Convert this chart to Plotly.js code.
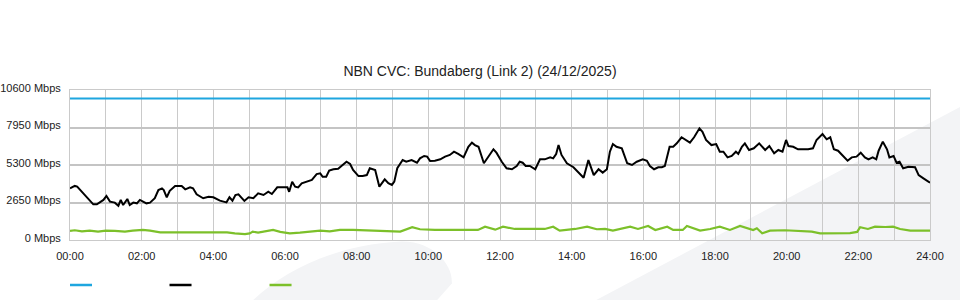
<!DOCTYPE html>
<html>
<head>
<meta charset="utf-8">
<script src="https://cdn.plot.ly/plotly-3.0.1.min.js"></script>
<style>html,body{margin:0;padding:0;background:#fff;}#chart{width:960px;height:300px;}</style>
</head>
<body>
<div id="chart"></div>
<script>
// Time of day in minutes since 00:00
const capacityTime = [0, 1440];
const capacityMbps = [10000, 10000];

const downTime = [0,8,12,22,33,39,45,50,56,61,67,75,81,85,89,96,100,106,112,117,128,134,142,148,154,157,162,167,176,187,193,201,206,212,223,232,240,251,262,267,272,277,282,292,299,307,315,324,332,338,347,357,364,367,372,377,382,388,396,405,413,419,423,429,434,441,449,455,463,469,474,483,490,497,502,511,518,527,533,539,543,548,557,563,572,581,586,593,598,603,611,620,628,636,643,650,659,667,673,678,684,693,700,709,714,723,731,740,748,753,758,763,770,779,787,795,804,809,814,818,823,832,843,851,860,868,877,885,892,899,904,909,915,924,933,941,949,959,966,971,978,985,991,996,1004,1010,1016,1024,1030,1038,1045,1054,1059,1065,1074,1082,1088,1094,1101,1108,1115,1119,1125,1130,1137,1145,1154,1164,1171,1179,1186,1193,1199,1203,1211,1219,1228,1236,1244,1250,1260,1267,1273,1279,1286,1295,1302,1309,1317,1324,1331,1337,1344,1350,1354,1361,1368,1372,1379,1384,1389,1395,1404,1415,1421,1429,1440];
const downMbps = [3650,3820,3770,3300,2780,2520,2520,2640,2830,3110,2710,2640,2420,2830,2470,2900,2470,2640,2590,2830,2590,2640,2950,3530,3650,3530,3020,3480,3820,3820,3580,3720,3650,3230,2950,3060,3020,2780,2660,3020,2780,3180,3230,2760,3020,2950,3300,3180,3410,3250,3720,3720,3720,3410,4120,3770,3720,4010,4120,4240,4660,4710,4470,4470,4900,5000,5040,5230,5530,5370,4950,4520,4520,4590,5070,4950,3770,4290,4010,3890,4120,5070,5650,5530,5650,5460,5770,5940,5890,5580,5600,5700,5890,6010,6240,6080,5840,6590,6880,6710,6590,5420,5840,6410,6170,5530,5070,5000,5230,5530,5460,5230,5230,5000,5700,5700,5840,5770,6080,6710,6010,5420,5140,4760,4400,5650,4590,5000,4760,5000,6240,6780,6590,6480,5420,5300,5530,5700,5600,5230,5000,5140,5140,5230,6590,6590,6830,7260,7070,6880,7260,7890,7650,7070,6710,6780,6240,6240,5840,5940,6240,6080,6590,6830,6360,6480,6830,6360,6640,6130,6360,6240,7070,6640,6590,6410,6410,6410,6480,7070,7490,7120,7260,6410,6310,5940,5600,5840,5890,6170,5840,5700,5840,5700,6310,6950,6410,5840,5940,5460,5530,5070,5180,5140,4590,4360,4050];

const upTime = [0,8,20,33,47,60,75,92,105,122,134,151,176,196,218,243,263,276,293,301,306,315,327,340,352,368,385,402,419,435,452,474,494,519,539,553,573,586,611,636,661,683,695,712,725,745,770,795,809,820,846,866,882,896,909,924,938,951,968,980,1000,1010,1026,1033,1055,1072,1088,1105,1122,1144,1150,1159,1172,1197,1222,1242,1256,1281,1306,1318,1323,1336,1348,1365,1378,1390,1407,1423,1440];
const upMbps = [640,690,610,660,590,660,640,590,660,710,660,540,540,540,570,540,540,470,420,470,590,520,590,710,570,470,520,590,660,610,710,710,690,660,610,590,900,760,710,710,730,710,940,730,940,780,780,780,940,660,780,940,760,780,660,780,940,780,990,710,940,710,710,990,660,780,940,710,990,710,830,470,660,690,660,590,470,470,490,570,900,780,940,920,940,780,660,660,660];

const xTickHours = [0,2,4,6,8,10,12,14,16,18,20,22,24];
const xTickLabels = ["00:00","02:00","04:00","06:00","08:00","10:00","12:00","14:00","16:00","18:00","20:00","22:00","24:00"];
const yTickValues = [0,2650,5300,7950,10600];
const yTickLabels = ["0 Mbps","2650 Mbps","5300 Mbps","7950 Mbps","10600 Mbps"];

const titleText = "NBN CVC: Bundaberg (Link 2) (24/12/2025)";

const COLORS = {capacity:'#1ea6df', down:'#000000', up:'#7cc02a'};
const toHours = a => a.map(m => m / 60);

const traces = [
  {x: toHours(capacityTime), y: capacityMbps, mode:'lines', name:'Capacity', line:{color:COLORS.capacity, width:2}},
  {x: toHours(upTime), y: upMbps, mode:'lines', name:'Upload', line:{color:COLORS.up, width:2.2}},
  {x: toHours(downTime), y: downMbps, mode:'lines', name:'Download', line:{color:COLORS.down, width:2}}
];

const bg = '#f3f4f6';
const legendY = -0.3;
const shapes = [
  {type:'path', xref:'paper', yref:'paper', layer:'below', fillcolor:bg, line:{width:0},
   path:'M 0.213,-0.4 C 0.25,-0.2 0.31,-0.03 0.385,-0.01 C 0.42,-0.005 0.445,-0.15 0.444,-0.29 L 0.427,-0.4 Z'},
  {type:'path', xref:'paper', yref:'paper', layer:'below', fillcolor:bg, line:{width:0},
   path:'M 0.612,-0.4 L 1.035,0.887 L 1.035,-0.4 Z'},
  {type:'line', xref:'paper', yref:'paper', x0:0, x1:0.0256, y0:legendY, y1:legendY, line:{color:COLORS.capacity, width:2.5}},
  {type:'line', xref:'paper', yref:'paper', x0:0.1157, x1:0.1413, y0:legendY, y1:legendY, line:{color:COLORS.down, width:2.5}},
  {type:'line', xref:'paper', yref:'paper', x0:0.232, x1:0.2576, y0:legendY, y1:legendY, line:{color:COLORS.up, width:2.5}}
];

const layout = {
  width:960, height:300,
  margin:{l:70, r:30, t:90, b:60},
  paper_bgcolor:'#ffffff',
  plot_bgcolor:'rgba(0,0,0,0)',
  showlegend:false,
  font:{family:'"Liberation Sans", Arial, sans-serif', size:11, color:'#222'},
  title:{text:titleText, font:{size:14, color:'#222'}, x:0.5, xref:'container', xanchor:'center', y:1-71/300, yref:'container', yanchor:'middle'},
  xaxis:{range:[0,24], tickmode:'array', tickvals:xTickHours, ticktext:xTickLabels,
    showgrid:true, gridcolor:'#cacaca', gridwidth:1,
    minor:{tickmode:'linear', tick0:0, dtick:1, showgrid:true, gridcolor:'#cacaca', gridwidth:1},
    zeroline:false, showline:true, mirror:true, linecolor:'#cacaca', linewidth:1,
    ticks:'', ticklabelstandoff:6, fixedrange:true},
  yaxis:{range:[0,10600], tickmode:'array', tickvals:yTickValues, ticktext:yTickLabels,
    showgrid:true, gridcolor:'#c4c4c4', gridwidth:2,
    zeroline:false, showline:true, mirror:true, linecolor:'#cacaca', linewidth:1,
    ticks:'', ticklabelstandoff:6, ticklabelshift:-2, fixedrange:true},
  shapes:shapes
};

Plotly.newPlot('chart', traces, layout, {displayModeBar:false, staticPlot:true});
</script>
</body>
</html>
